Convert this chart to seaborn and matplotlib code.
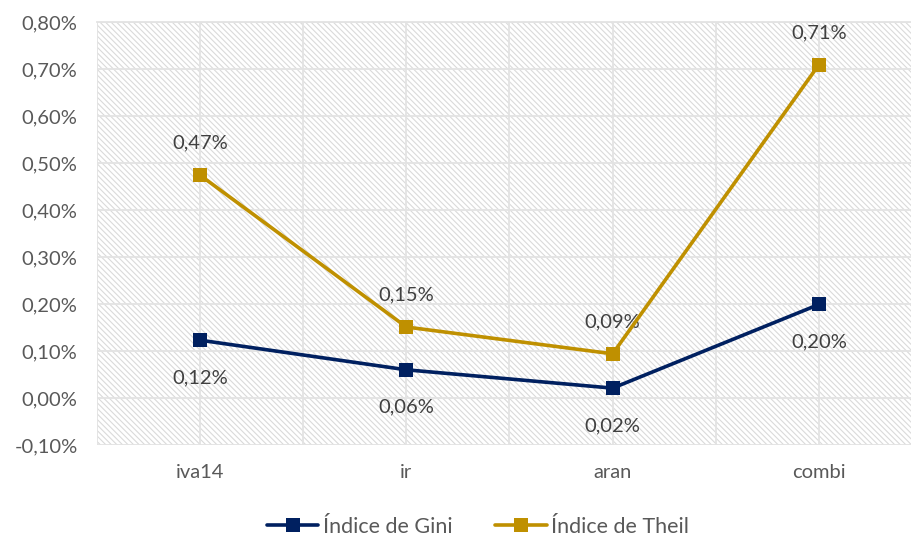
import matplotlib
matplotlib.use("Agg")
import matplotlib.pyplot as plt
import seaborn as sns
import pandas as pd
import numpy as np
from matplotlib.patches import Rectangle
from matplotlib.lines import Line2D

categories = ["iva14", "ir", "aran", "combi"]
gini = [0.123, 0.060, 0.021, 0.199]
theil = [0.474, 0.151, 0.094, 0.709]
gini_labels = ["0,12%", "0,06%", "0,02%", "0,20%"]
theil_labels = ["0,47%", "0,15%", "0,09%", "0,71%"]
yticks = [-0.10, 0.0, 0.10, 0.20, 0.30, 0.40, 0.50, 0.60, 0.70, 0.80]
series_names = ["Índice de Gini", "Índice de Theil"]
colors = ["#002060", "#BF9000"]

sns.set_style("white")
plt.rcParams['font.family'] = ['Lato', 'DejaVu Sans']
plt.rcParams['hatch.color'] = '#dadada'
plt.rcParams['hatch.linewidth'] = 0.8

df = pd.DataFrame({
    "cat": categories * 2,
    "x": list(range(len(categories))) * 2,
    "val": gini + theil,
    "serie": [series_names[0]] * 4 + [series_names[1]] * 4,
})

fig = plt.figure(figsize=(9.12, 5.39), dpi=100)
ax = fig.add_axes([97 / 912, 1 - 445 / 539, (922 - 97) / 912, (445 - 22) / 539])

# hatched background
bg = Rectangle((0, 0), 1, 1, transform=ax.transAxes, facecolor='white',
               edgecolor='#dadada', linewidth=0, hatch='\\' * 6, zorder=0)
ax.add_patch(bg)

sns.lineplot(data=df, x="x", y="val", hue="serie", palette=colors, marker="s",
             markersize=10.5, linewidth=2.6, markeredgewidth=0, ax=ax, legend=False,
             zorder=5)

ax.set_xlim(-0.5, 3.5)
ax.set_ylim(-0.10, 0.80)
ax.set_yticks(yticks)
ax.set_yticklabels([f"{v:.2f}".replace(".", ",").replace("-0,00", "0,00") + "%" for v in yticks])
ax.set_xticks(range(len(categories)))
ax.set_xticklabels(categories)
ax.set_xticks([-0.5, 0.5, 1.5, 2.5, 3.5], minor=True)
ax.grid(True, which='both', axis='x', color='#e3e3e3', linewidth=1.3, zorder=1)
ax.grid(True, which='major', axis='y', color='#e3e3e3', linewidth=1.3, zorder=1)
ax.set_axisbelow(True)
ax.tick_params(axis='both', which='both', length=0, labelsize=14.5, colors='#595959')
ax.tick_params(axis='x', pad=14)
ax.tick_params(axis='y', pad=14)
for s in ax.spines.values():
    s.set_visible(False)
ax.spines['top'].set_visible(True)
ax.spines['top'].set_color('#e3e3e3')
ax.spines['top'].set_linewidth(1.3)
ax.set_xlabel("")
ax.set_ylabel("")

for i in range(len(categories)):
    ax.annotate(theil_labels[i], (i, theil[i]), xytext=(0, 23), textcoords='offset points',
                ha='center', va='center', fontsize=14.5, color='#404040')
    ax.annotate(gini_labels[i], (i, gini[i]), xytext=(0, -27), textcoords='offset points',
                ha='center', va='center', fontsize=14.5, color='#404040')

handles = [Line2D([0], [0], color=c, marker='s', markersize=10.5, linewidth=2.6,
                  markeredgewidth=0) for c in colors]
fig.legend(handles, series_names, loc='center', bbox_to_anchor=(478 / 912, 1 - 527 / 539),
           ncol=2, frameon=False, fontsize=15.5, labelcolor='#595959', handlelength=2.4,
           handletextpad=0.2, columnspacing=2.0)

fig.savefig("out.png", dpi=100)
